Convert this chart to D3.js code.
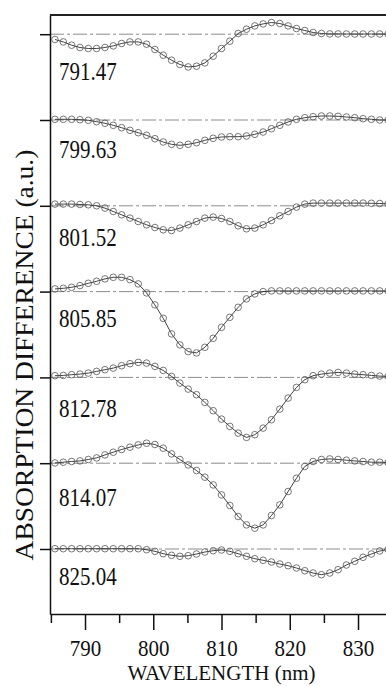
<!DOCTYPE html>
<html>
<head>
<meta charset="utf-8">
<script src="https://cdn.jsdelivr.net/npm/d3@7"></script>
<style>
  html, body { margin: 0; padding: 0; background: #fff; }
  svg { display: block; }
</style>
</head>
<body>
<script>
// ---- data ----
const wavelengths = [785.60, 786.82, 788.04, 789.26, 790.48, 791.70, 792.92, 794.14, 795.36, 796.58,
  797.80, 799.02, 800.24, 801.46, 802.68, 803.90, 805.12, 806.34, 807.56, 808.78,
  810.00, 811.22, 812.44, 813.66, 814.88, 816.10, 817.32, 818.54, 819.76, 820.98,
  822.20, 823.42, 824.64, 825.86, 827.08, 828.30, 829.52, 830.74, 831.96, 833.18, 834.40];

const panelLabels = ["791.47", "799.63", "801.52", "805.85", "812.78", "814.07", "825.04"];

const s791 = [-0.53,-0.77,-1.10,-1.33,-1.43,-1.43,-1.33,-1.17,-0.93,-0.77,-0.77,-1.00,-1.53,-2.10,-2.60,-3.03,-3.27,-3.20,-2.87,-2.20,-1.43,-0.70,0.07,0.50,0.83,1.03,1.17,1.07,0.83,0.57,0.37,0.17,0.07,0.03,0.03,0.02,0.02,0.02,0.02,0.02,0.02];
const s799 = [0.07,0.07,0.07,0.03,-0.03,-0.17,-0.33,-0.53,-0.77,-1.03,-1.27,-1.53,-1.87,-2.20,-2.43,-2.53,-2.43,-2.27,-2.03,-1.83,-1.70,-1.67,-1.67,-1.60,-1.43,-1.20,-0.87,-0.53,-0.20,0.07,0.23,0.33,0.40,0.40,0.37,0.30,0.23,0.13,0.07,0.00,0.00];
const s801 = [0.17,0.17,0.17,0.13,0.10,0.00,-0.23,-0.57,-0.90,-1.23,-1.57,-1.90,-2.17,-2.40,-2.47,-2.23,-1.90,-1.57,-1.23,-1.13,-1.27,-1.57,-2.00,-2.30,-2.23,-1.90,-1.47,-1.00,-0.57,-0.13,0.17,0.27,0.27,0.27,0.27,0.27,0.27,0.27,0.25,0.23,0.20];
const s805 = [0.27,0.33,0.43,0.60,0.83,1.03,1.27,1.43,1.43,1.20,0.77,-0.13,-1.33,-2.67,-4.23,-5.33,-6.00,-6.13,-5.57,-4.67,-3.57,-2.57,-1.57,-0.73,-0.23,0.00,0.07,0.07,0.07,0.07,0.07,0.07,0.07,0.07,0.07,0.07,0.07,0.07,0.07,0.07,0.07];
const s812 = [0.17,0.20,0.27,0.33,0.43,0.60,0.77,0.93,1.17,1.37,1.50,1.43,1.10,0.70,0.10,-0.57,-1.17,-1.73,-2.50,-3.33,-4.17,-4.90,-5.57,-6.00,-5.73,-5.07,-4.23,-3.17,-2.07,-1.00,-0.23,0.17,0.33,0.43,0.50,0.43,0.33,0.27,0.20,0.13,0.10];
const s814 = [0.03,0.10,0.17,0.23,0.37,0.53,0.83,1.10,1.37,1.60,1.83,2.00,1.87,1.50,0.93,0.37,-0.17,-0.73,-1.40,-2.17,-3.17,-4.23,-5.33,-6.17,-6.50,-6.17,-5.23,-4.17,-2.83,-1.50,-0.33,0.17,0.37,0.43,0.37,0.30,0.23,0.17,0.10,0.10,0.07];
const s825 = [0.03,0.03,0.03,0.03,0.03,0.03,0.03,0.03,0.03,0.03,0.03,-0.07,-0.23,-0.47,-0.63,-0.73,-0.67,-0.50,-0.30,-0.17,-0.10,-0.23,-0.47,-0.73,-0.97,-1.13,-1.30,-1.50,-1.67,-1.90,-2.17,-2.40,-2.57,-2.40,-2.07,-1.60,-1.23,-0.83,-0.50,-0.20,-0.05];

const series = [s791, s799, s801, s805, s812, s814, s825];
const offsets = [51.48, 42.90, 34.32, 25.74, 17.16, 8.58, 0];   // vertical offset of each trace (a.u.)
const xTicksMajor = [790, 800, 810, 820, 830];
const xTicksMinor = [785, 795, 805, 815, 825, 835];

// ---- layout ----
const W = 386, H = 686;
const mLeft = 50, mTop = 15, mBottom = 614;
const labelDy = [46, 38, 40, 35, 40, 43, 36];
const serif = "'Liberation Serif', 'Times New Roman', 'DejaVu Serif', serif";
const stretch = 1.15;

const svg = d3.select("body").append("svg").attr("width", W).attr("height", H);

const x = d3.scaleLinear().domain([784.87, 834.1]).range([mLeft, W]);
const y = d3.scaleLinear().domain([-6.5, 53.4]).range([mBottom, mTop]);

svg.append("defs").append("clipPath").attr("id", "plot")
  .append("rect").attr("x", mLeft).attr("y", mTop).attr("width", W - mLeft).attr("height", mBottom - mTop);

// zero lines
const g = svg.append("g").attr("clip-path", "url(#plot)");
g.selectAll("line.zero").data(offsets).join("line")
  .attr("class", "zero")
  .attr("x1", mLeft).attr("x2", W)
  .attr("y1", d => y(d)).attr("y2", d => y(d))
  .attr("stroke", "#8c8c8c").attr("stroke-width", 1)
  .attr("stroke-dasharray", "14,3,3,3");

// traces
const line = d3.line().x(d => x(d[0])).y(d => y(d[1]));
series.forEach((vals, k) => {
  const pts = vals.map((v, i) => [wavelengths[i], v + offsets[k]]);
  g.append("path").datum(pts)
    .attr("d", line).attr("fill", "none")
    .attr("stroke", "#111").attr("stroke-width", 0.8);
  g.selectAll(null).data(pts).join("circle")
    .attr("cx", d => x(d[0])).attr("cy", d => y(d[1]))
    .attr("r", 3.3).attr("fill", "none")
    .attr("stroke", "#555").attr("stroke-width", 0.8);
});

// panel labels
panelLabels.forEach((t, k) => {
  svg.append("text")
    .attr("transform", `translate(59,${y(offsets[k]) + labelDy[k]}) scale(1,${stretch})`)
    .attr("font-family", serif).attr("font-size", 21).attr("fill", "#111")
    .text(t);
});

// top frame
svg.append("line").attr("x1", mLeft).attr("x2", W).attr("y1", mTop).attr("y2", mTop)
  .attr("stroke", "#222").attr("stroke-width", 2);

// left axis with ticks at each baseline
const yAxis = svg.append("g").attr("transform", `translate(${mLeft},0)`)
  .call(d3.axisLeft(y).tickValues(offsets).tickSize(10).tickSizeOuter(0).tickFormat(""));
yAxis.select(".domain").attr("stroke", "#111").attr("stroke-width", 1.5);
yAxis.selectAll(".tick line").attr("stroke", "#111").attr("stroke-width", 1.5);

// bottom axis
const xMinor = svg.append("g").attr("transform", `translate(0,${mBottom})`)
  .call(d3.axisBottom(x).tickValues(xTicksMinor).tickSize(9).tickSizeOuter(0).tickFormat(""));
xMinor.select(".domain").attr("stroke", "#111").attr("stroke-width", 1.5);
xMinor.selectAll(".tick line").attr("stroke", "#111").attr("stroke-width", 1.5);

const xMajor = svg.append("g").attr("transform", `translate(0,${mBottom})`)
  .call(d3.axisBottom(x).tickValues(xTicksMajor).tickSize(16).tickSizeOuter(0).tickFormat(d3.format("d")));
xMajor.select(".domain").remove();
xMajor.selectAll(".tick line").attr("stroke", "#111").attr("stroke-width", 1.5);
xMajor.selectAll(".tick text")
  .attr("y", 0).attr("dy", 0)
  .attr("transform", `translate(0,42) scale(1,1.1)`)
  .attr("font-family", serif).attr("font-size", 21).attr("fill", "#111");

// axis titles
svg.append("text")
  .attr("transform", `translate(${x(810)},680)`)
  .attr("text-anchor", "middle")
  .attr("font-family", serif).attr("font-size", 21).attr("fill", "#111")
  .text("WAVELENGTH (nm)");

svg.append("text")
  .attr("transform", `translate(33,355) rotate(-90) scale(1.1,1)`)
  .attr("text-anchor", "middle")
  .attr("font-family", serif).attr("font-size", 25).attr("fill", "#111")
  .text("ABSORPTION DIFFERENCE (a.u.)");
</script>
</body>
</html>
